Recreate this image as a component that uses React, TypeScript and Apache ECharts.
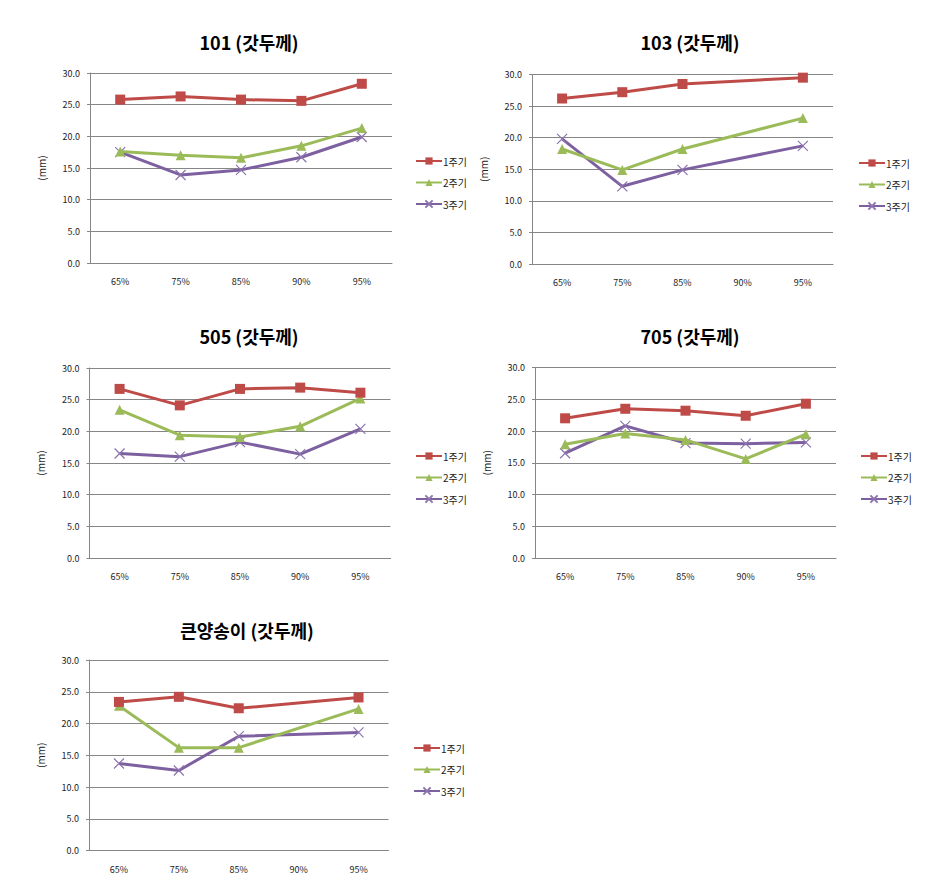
import React, { useEffect, useRef } from "react";
import * as echarts from "echarts";

const categories = ["65%", "75%", "85%", "90%", "95%"];
const seriesNames = ["1주기", "2주기", "3주기"];
const yTicks = [0, 5, 10, 15, 20, 25, 30];

const titles = ["101 (갓두께)", "103 (갓두께)", "505 (갓두께)", "705 (갓두께)", "큰양송이 (갓두께)"];

const c101_1 = [25.8, 26.3, 25.8, 25.6, 28.3];
const c101_2 = [17.6, 17.0, 16.6, 18.5, 21.3];
const c101_3 = [17.5, 13.9, 14.7, 16.7, 19.9];

const c103_1 = [26.2, 27.2, 28.5, null, 29.5];
const c103_2 = [18.2, 14.9, 18.2, null, 23.1];
const c103_3 = [19.8, 12.3, 14.9, null, 18.7];

const c505_1 = [26.7, 24.1, 26.7, 26.9, 26.1];
const c505_2 = [23.4, 19.4, 19.1, 20.8, 25.2];
const c505_3 = [16.5, 16.0, 18.3, 16.4, 20.4];

const c705_1 = [22.0, 23.5, 23.2, 22.4, 24.3];
const c705_2 = [17.9, 19.6, 18.6, 15.6, 19.5];
const c705_3 = [16.5, 20.8, 18.1, 18.0, 18.2];

const big_1 = [23.4, 24.2, 22.4, null, 24.1];
const big_2 = [22.8, 16.2, 16.2, null, 22.3];
const big_3 = [13.7, 12.6, 18.0, null, 18.6];

const chartData = [
  [c101_1, c101_2, c101_3],
  [c103_1, c103_2, c103_3],
  [c505_1, c505_2, c505_3],
  [c705_1, c705_2, c705_3],
  [big_1, big_2, big_3],
];

const layouts = [
  { left: 90, top: 73, width: 302, height: 190, tx: 249, ty: 42, lx: 410, ly: 151 },
  { left: 532, top: 74.5, width: 301, height: 189.5, tx: 690, ty: 42, lx: 853, ly: 153 },
  { left: 89.5, top: 368, width: 301, height: 190, tx: 249, ty: 336, lx: 410, ly: 446 },
  { left: 535, top: 367.5, width: 301, height: 190.5, tx: 690, ty: 336, lx: 855, ly: 446 },
  { left: 89, top: 660, width: 299.5, height: 190.5, tx: 247, ty: 630, lx: 408, ly: 738 },
];

const colors = ["#BE4B48", "#9BBB59", "#7D60A0"];
const symbols = ["rect", "triangle", "path://M0,0L10,10M10,0L0,10"];
const symbolSizes = [10, 10, 10];
const FONT = "'Noto Sans CJK KR', 'Malgun Gothic', sans-serif";

export default function App() {
  const ref = useRef<HTMLDivElement>(null);
  useEffect(() => {
    if (!ref.current) return;
    const chart = echarts.init(ref.current, undefined, { renderer: "svg" });
    const grid: any[] = [];
    const xAxis: any[] = [];
    const yAxis: any[] = [];
    const series: any[] = [];
    const legend: any[] = [];
    const graphic: any[] = [];
    layouts.forEach((l, i) => {
      grid.push({ left: l.left, top: l.top, width: l.width, height: l.height });
      xAxis.push({
        type: "category",
        gridIndex: i,
        data: categories,
        boundaryGap: true,
        axisLine: { lineStyle: { color: "#868686", width: 1 } },
        axisTick: { show: false },
        axisLabel: { fontSize: 9, color: "#222", fontFamily: FONT, margin: 14 },
      });
      yAxis.push({
        type: "value",
        gridIndex: i,
        min: yTicks[0],
        max: yTicks[yTicks.length - 1],
        interval: 5,
        name: "(mm)",
        nameLocation: "middle",
        nameRotate: 90,
        nameGap: 44,
        nameTextStyle: { fontSize: 10, color: "#222", fontFamily: FONT },
        axisLine: { show: true, lineStyle: { color: "#868686", width: 1 } },
        axisTick: { show: true, length: 3, lineStyle: { color: "#868686" } },
        splitLine: { lineStyle: { color: "#868686", width: 1 } },
        axisLabel: {
          fontSize: 9,
          color: "#222",
          fontFamily: FONT,
          margin: 10,
          formatter: (v: number) => v.toFixed(1),
        },
      });
      chartData[i].forEach((d, s) => {
        series.push({
          type: "line",
          name: seriesNames[s],
          xAxisIndex: i,
          yAxisIndex: i,
          data: d,
          connectNulls: true,
          symbol: symbols[s],
          symbolSize: symbolSizes[s],
          showSymbol: true,
          lineStyle: { color: colors[s], width: 3 },
          itemStyle:
            s === 2
              ? { color: "rgba(0,0,0,0)", borderColor: "#8C74AE", borderWidth: 1.2 }
              : { color: colors[s] },
          z: 3 - s,
        });
      });
      legend.push({
        orient: "vertical",
        left: l.lx,
        top: l.ly,
        itemWidth: 26,
        itemHeight: 9,
        itemGap: 11.5,
        data: seriesNames,
        textStyle: { fontSize: 10, color: "#222", fontFamily: FONT, padding: [0, 0, 0, -4] },
        selectedMode: false,
      });
      graphic.push({
        type: "text",
        x: l.tx,
        y: l.ty,
        style: {
          text: titles[i],
          textAlign: "center",
          textVerticalAlign: "middle",
          font: `bold 18px ${FONT}`,
          fill: "#000",
        },
      });
    });
    chart.setOption({
      animation: false,
      backgroundColor: "#fff",
      grid,
      xAxis,
      yAxis,
      series,
      legend,
      graphic,
    });
    return () => chart.dispose();
  }, []);
  return (
    <div
      ref={ref}
      style={{ position: "fixed", left: 0, top: 0, width: 938, height: 886, background: "#fff" }}
    />
  );
}
